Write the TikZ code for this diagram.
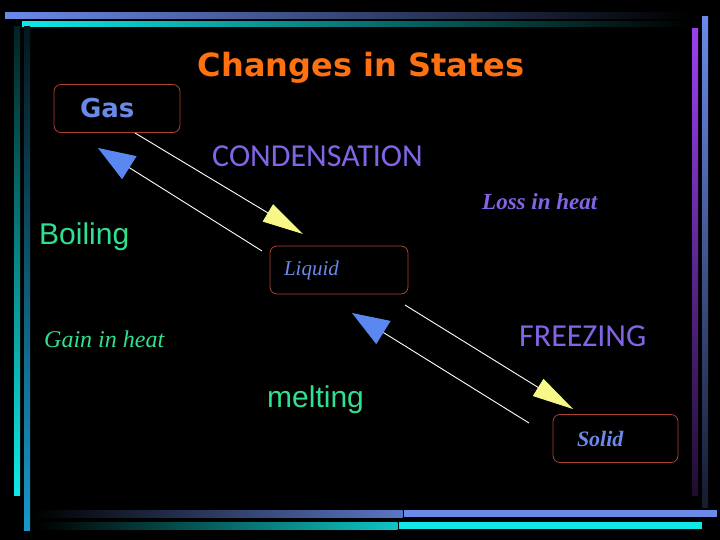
\documentclass[tikz,border=0pt]{standalone}
\usepackage{fontspec}
\newfontfamily\headfont{DejaVu Sans}
\newfontfamily\calfont{Carlito}
\newfontfamily\arialfont{Liberation Sans}
\newfontfamily\handfont{Liberation Serif}
\usetikzlibrary{arrows.meta,positioning}

\definecolor{barblue}{RGB}{106,138,232}
\definecolor{barcyan}{RGB}{16,232,232}
\definecolor{barteal}{RGB}{24,152,200}
\definecolor{barpurple}{RGB}{154,64,240}
\definecolor{boxred}{RGB}{176,64,48}
\definecolor{titleorange}{RGB}{255,112,16}
\definecolor{labelpurple}{RGB}{130,100,230}
\definecolor{labelgreen}{RGB}{48,224,144}
\definecolor{stateblue}{RGB}{106,138,232}
\definecolor{headyellow}{RGB}{248,248,136}
\definecolor{headblue}{RGB}{90,136,240}

\tikzset{
  statebox/.style={draw=boxred, rounded corners=7pt, line width=0.8pt, minimum height=48pt, align=left, text=stateblue},
  lbl/.style={anchor=base west, inner sep=0pt},
  flowline/.style={draw=white, line width=0.9pt},
  downflow/.style={flowline, -{Triangle[length=41pt,width=20pt,color=headyellow]}},
  upflow/.style={flowline, -{Triangle[length=37pt,width=27pt,color=headblue]}}
}

\begin{document}
\begin{tikzpicture}[x=1pt,y=-1pt]
      \fill[black] (0,0) rectangle (720,540);
      \shade[left color=barblue, middle color=barblue!75!black, right color=black] (5,13) rectangle (690,19);
      \shade[left color=barcyan, middle color=barcyan!70!black, right color=black] (22,22) rectangle (690,27);
      \shade[top color=black!85!barcyan, bottom color=barcyan] (14,27) rectangle (20,495);
      \shade[top color=black!85!barteal, bottom color=barteal] (24,27) rectangle (30,530);
      \shade[top color=barpurple, bottom color=black!80!barpurple] (692,29) rectangle (698,495);
      \shade[top color=barblue, bottom color=black!80!barblue] (702,17) rectangle (708,507);
      \shade[left color=black, right color=barblue!85!black] (32,510) rectangle (402.5,517);
      \fill[barblue] (403.5,510) rectangle (717,517);
      \shade[left color=black, right color=barcyan!85!black] (37,522) rectangle (397.5,529);
      \fill[barcyan] (398.5,522) rectangle (702,529);

      \node[anchor=base, inner sep=0pt, text=titleorange, font=\headfont\bfseries\fontsize{32}{36}\selectfont] (title) at (361,77) {Changes in States};

      \node[statebox, text width=74pt, inner xsep=26pt, font=\headfont\bfseries\fontsize{26}{30}\selectfont] (gas) at (117,108.5) {Gas};
      \node[statebox, text width=110pt, inner xsep=14pt, font=\handfont\itshape\fontsize{21}{24}\selectfont] (liquid) at (339,270) {Liquid};
      \node[statebox, text width=77pt, inner xsep=24pt, font=\handfont\bfseries\itshape\fontsize{22}{26}\selectfont] (solid) at (615.5,438.5) {Solid};

      \node[lbl, text=labelpurple, font=\calfont\fontsize{32}{36}\selectfont] (condlbl) at (212,167) {CONDENSATION};
      \node[lbl, text=labelpurple, font=\handfont\bfseries\itshape\fontsize{23}{26}\selectfont] (losslbl) at (482,210) {Loss in heat};
      \node[lbl, text=labelgreen, font=\arialfont\fontsize{30}{34}\selectfont] (boillbl) at (39,244) {Boiling};
      \node[lbl, text=labelgreen, font=\handfont\itshape\fontsize{24}{28}\selectfont] (gainlbl) at (44,347) {Gain in heat};
      \node[lbl, text=labelpurple, font=\calfont\fontsize{32}{36}\selectfont] (freezelbl) at (519,346) {FREEZING};
      \node[lbl, text=labelgreen, font=\arialfont\fontsize{30}{34}\selectfont] (meltlbl) at (267,407) {melting};

      \coordinate (condfrom) at (135,133);
      \coordinate (condto) at (303,234);
      \coordinate (boilfrom) at (262,251);
      \coordinate (boilto) at (98,148);
      \coordinate (freezefrom) at (405,305);
      \coordinate (freezeto) at (573,409);
      \coordinate (meltfrom) at (529,423);
      \coordinate (meltto) at (352,313);

      \draw[downflow] (condfrom) -- (condto);
      \draw[upflow] (boilfrom) -- (boilto);
      \draw[downflow] (freezefrom) -- (freezeto);
      \draw[upflow] (meltfrom) -- (meltto);
    \end{tikzpicture}
\end{document}
